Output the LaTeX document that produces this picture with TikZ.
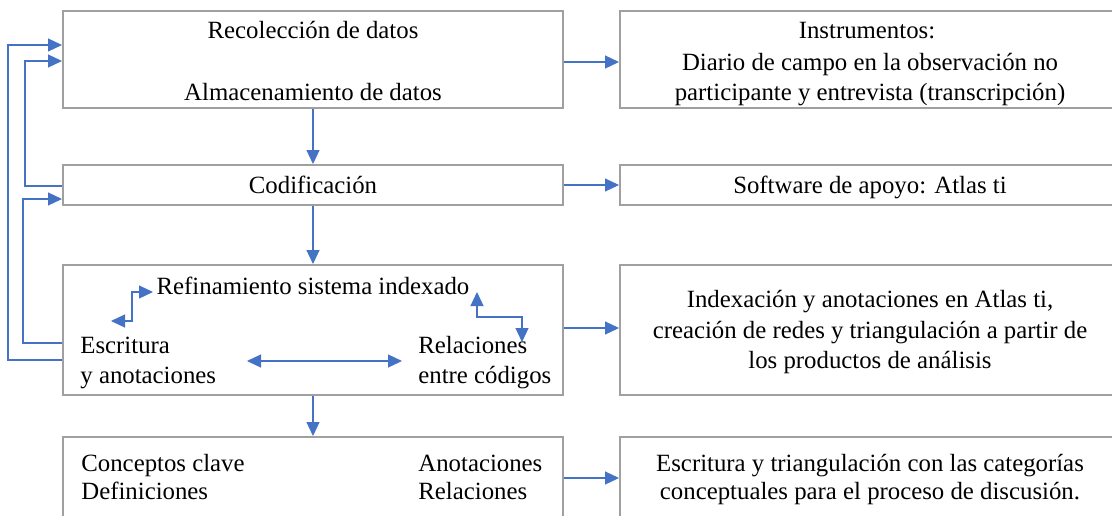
\documentclass[tikz,border=0pt]{standalone}
\usepackage{fontspec}
\setmainfont{Liberation Serif}
\usetikzlibrary{arrows.meta}
\definecolor{linkblue}{RGB}{68,114,196}
\definecolor{boxgray}{RGB}{160,160,160}
\tikzset{
  box/.style={draw=boxgray, line width=1pt, minimum width=250pt, inner sep=0pt},
  lbl/.style={inner sep=0pt, anchor=base, font=\fontsize{12.4}{15}\selectfont},
  lbll/.style={lbl, anchor=base west},
  link/.style={draw=linkblue, line width=0.6pt, >={Triangle[length=7pt,width=6.5pt]}, ->},
  dlink/.style={link, <->}
}
\begin{document}
\begin{tikzpicture}[x=0.5pt, y=-0.5pt]
\useasboundingbox (0,0) rectangle (1112,515);

% left column
\node[box, minimum height=48.5pt] (rec) at (313,59.5) {};
\node[box, minimum height=20pt] (cod) at (313,185) {};
\node[box, minimum height=65pt] (ref) at (313,330) {};
\node[box, minimum height=41pt] (con) at (313,478) {};

% right column
\node[box, minimum height=48.5pt] (ins) at (870,59.5) {};
\node[box, minimum height=20pt] (sof) at (870,185) {};
\node[box, minimum height=65pt] (ind) at (870,330) {};
\node[box, minimum height=41pt] (esc) at (870,478) {};

% texts
\node[lbl] (recA) at (313,38) {Recolección de datos};
\node[lbl] (recB) at (313,100) {Almacenamiento de datos};
\node[lbl] (codA) at (313,193) {Codificación};
\node[lbl] (refA) at (313,294) {Refinamiento sistema indexado};
\node[lbll] (refB) at (80,353) {Escritura};
\node[lbll] (refC) at (80,383) {y anotaciones};
\node[lbll] (refD) at (418,353) {Relaciones};
\node[lbll] (refE) at (418,383) {entre códigos};
\node[lbll] (conA) at (81,471) {Conceptos clave};
\node[lbll] (conB) at (81,499) {Definiciones};
\node[lbll] (conC) at (418,471) {Anotaciones};
\node[lbll] (conD) at (418,499) {Relaciones};

\node[lbl] (insA) at (867,38) {Instrumentos:};
\node[lbl] (insB) at (870,70) {Diario de campo en la observación no};
\node[lbl] (insC) at (870,100) {participante y entrevista (transcripción)};
\node[lbl] (sofA) at (870,193) {Software de apoyo: Atlas ti};
\node[lbl] (indA) at (870,307) {Indexación y anotaciones en Atlas ti,};
\node[lbl] (indB) at (870,338) {creación de redes y triangulación a partir de};
\node[lbl] (indC) at (870,368) {los productos de análisis};
\node[lbl] (escA) at (870,471) {Escritura y triangulación con las categorías};
\node[lbl] (escB) at (870,499) {conceptuales para el proceso de discusión.};

% flow down
\draw[link] (rec.south) -- (cod.north);
\draw[link] (cod.south) -- (ref.north);
\draw[link] (ref.south) -- (con.north);

% flow right
\draw[link] (rec.east |- 0,62) -- (ins.west |- 0,62);
\draw[link] (cod.east) -- (sof.west);
\draw[link] (ref.east |- 0,328) -- (ind.west |- 0,328);
\draw[link] (con.east) -- (esc.west);

% feedback
\draw[link] (ref.west |- 0,360) -- (8,360) -- (8,45) -- (rec.west |- 0,45);
\draw[link] (cod.west |- 0,186) -- (25,186) -- (25,61) -- (rec.west |- 0,61);
\draw[link] (ref.west |- 0,343) -- (23,343) -- (23,199) -- (cod.west |- 0,199);

% inside refinamiento
\coordinate (e1) at (111,321);
\coordinate (e2) at (153,292);
\coordinate (e3) at (477,292);
\coordinate (e4) at (522,342);
\coordinate (e5) at (247,361);
\coordinate (e6) at (402,361);
\draw[dlink] (e1) -- (132,321) -- (132,292) -- (e2);
\draw[dlink] (e3) -- (477,317) -- (522,317) -- (e4);
\draw[dlink] (e5) -- (e6);
\end{tikzpicture}
\end{document}
